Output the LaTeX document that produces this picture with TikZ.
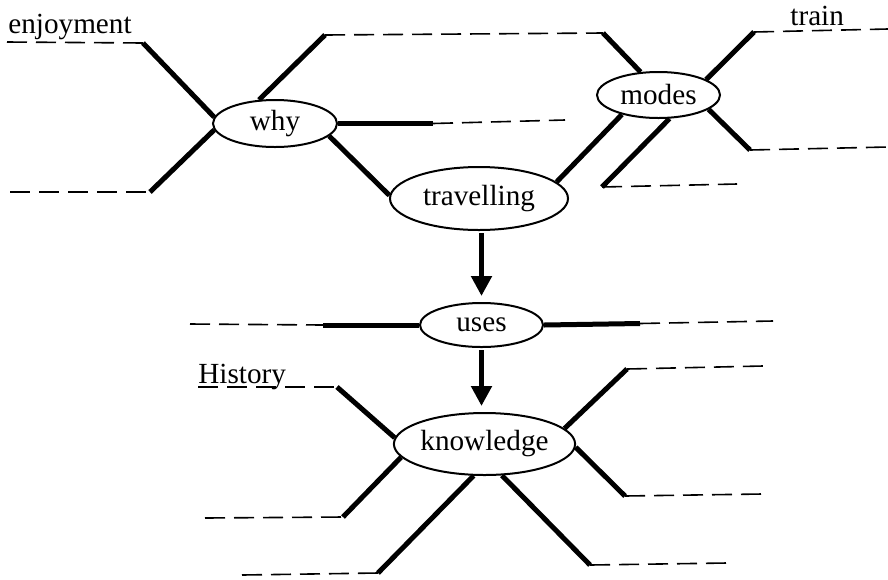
\documentclass[tikz,border=0pt]{standalone}
\usepackage{fontspec}
\setmainfont{Liberation Serif}
\usetikzlibrary{shapes.geometric,arrows.meta}
\begin{document}
\begin{tikzpicture}[x=0.5pt,y=-0.5pt,font=\fontsize{14.6}{17}\selectfont]
\tikzstyle{bubble} = [ellipse, draw, line width=1pt, inner sep=0pt]
\tikzstyle{spoke} = [line width=2.5pt]
\tikzstyle{blank} = [line width=0.8pt, dash pattern=on 10pt off 4.5pt]
\tikzstyle{arrow} = [line width=2.5pt, -{Triangle[width=10pt,length=10pt]}, shorten >=3pt, shorten <=1pt]
\tikzstyle{word} = [inner sep=0pt, anchor=base west]

\useasboundingbox (0,0) rectangle (888,579);

% main nodes
\node (why) [bubble, minimum width=62pt, minimum height=23.5pt] at (275,123.5) {why};
\node (travelling) [bubble, minimum width=89pt, minimum height=31.5pt] at (479,198.5) {travelling};
\node (modes) [bubble, minimum width=61.5pt, minimum height=23pt] at (658.5,95) {modes};
\node (uses) [bubble, minimum width=61.5pt, minimum height=22pt] at (481.5,325) {uses};
\node (knowledge) [bubble, minimum width=87.5pt, minimum height=31pt] at (484.5,444) {knowledge};

% labels on the blanks
\node (enjoyment) [word] at (8,33) {enjoyment};
\node (train) [word] at (790,25) {train};
\node (history) [word] at (198,383) {History};

% spoke ends
\coordinate (why-ul) at (143,43);
\coordinate (why-ll) at (150,192);
\coordinate (why-up) at (325,35);
\coordinate (why-r) at (433,123.5);
\coordinate (modes-ul) at (603,33);
\coordinate (modes-ur) at (754,32);
\coordinate (modes-lr) at (750,150);
\coordinate (modes-ll) at (602,187);
\coordinate (uses-l) at (323,325);
\coordinate (uses-r) at (640,323.5);
\coordinate (know-ul) at (337,387);
\coordinate (know-ll) at (343,517);
\coordinate (know-bl) at (378,573);
\coordinate (know-br) at (590,565);
\coordinate (know-ur) at (627,369);
\coordinate (know-lr) at (625,496);

% free ends of the blanks
\coordinate (why-ul-end) at (7,42);
\coordinate (why-ll-end) at (10,192);
\coordinate (why-r-end) at (565,120);
\coordinate (modes-ur-end) at (888,29);
\coordinate (modes-lr-end) at (888,147);
\coordinate (modes-ll-end) at (737,184);
\coordinate (uses-l-end) at (190,324);
\coordinate (uses-r-end) at (773,321);
\coordinate (know-ul-end) at (198,387);
\coordinate (know-ll-end) at (205,518);
\coordinate (know-bl-end) at (242,575);
\coordinate (know-br-end) at (727,563);
\coordinate (know-ur-end) at (763,366);
\coordinate (know-lr-end) at (762,494);

% thick spokes
\draw [spoke] (why.174) -- (why-ul);
\draw [spoke] (why.186) -- (why-ll);
\draw [spoke] (why.124) -- (why-up);
\draw [spoke] (why.east) -- (why-r);
\draw [spoke] (why.347) -- (travelling.178);
\draw [spoke] (travelling.12) -- (modes.208);
\draw [spoke] (modes.128) -- (modes-ul);
\draw [spoke] (modes.18) -- (modes-ur);
\draw [spoke] (modes.344) -- (modes-lr);
\draw [spoke] (modes.295) -- (modes-ll);
\draw [spoke] (uses.west) -- (uses-l);
\draw [spoke] (uses.east) -- (uses-r);
\draw [spoke] (knowledge.176) -- (know-ul);
\draw [spoke] (knowledge.189) -- (know-ll);
\draw [spoke] (knowledge.251) -- (know-bl);
\draw [spoke] (knowledge.299) -- (know-br);
\draw [spoke] (knowledge.11) -- (know-ur);
\draw [spoke] (knowledge.358) -- (know-lr);

% dashed blanks
\draw [blank] (why-ul-end) -- (why-ul);
\draw [blank] (why-ll-end) -- (why-ll);
\draw [blank] (why-up) -- (modes-ul);
\draw [blank] (why-r) -- (why-r-end);
\draw [blank] (modes-ur) -- (modes-ur-end);
\draw [blank] (modes-lr) -- (modes-lr-end);
\draw [blank] (modes-ll) -- (modes-ll-end);
\draw [blank] (uses-l-end) -- (uses-l);
\draw [blank] (uses-r) -- (uses-r-end);
\draw [blank] (know-ul-end) -- (know-ul);
\draw [blank] (know-ll-end) -- (know-ll);
\draw [blank] (know-bl-end) -- (know-bl);
\draw [blank] (know-br) -- (know-br-end);
\draw [blank] (know-ur) -- (know-ur-end);
\draw [blank] (know-lr) -- (know-lr-end);

% arrows
\draw [arrow] (travelling.south -| uses.north) -- (uses.north);
\draw [arrow] (uses.south) -- (uses.south |- knowledge.north);
\end{tikzpicture}
\end{document}
